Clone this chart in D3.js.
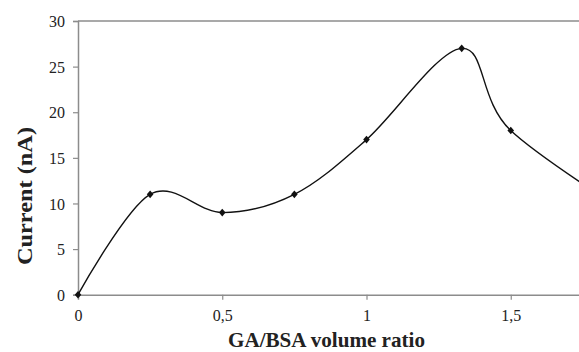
<!DOCTYPE html>
<html><head><meta charset="utf-8">
<script src="https://cdn.jsdelivr.net/npm/d3@7"></script>
<style>
html,body{margin:0;padding:0;background:#fff;}
svg{display:block;font-family:"Liberation Serif","Times New Roman",serif;}
</style></head>
<body>
<svg id="chart" width="579" height="352"></svg>
<script>
const ratios = [0, 0.25, 0.5, 0.75, 1, 1.33, 1.5, 2];
const currents = [0, 11, 9, 11, 17, 27, 18, 7];
const yTicks = [0, 5, 10, 15, 20, 25, 30];
const xTicks = [0, 0.5, 1, 1.5];
const xTickLabels = ["0", "0,5", "1", "1,5"];
const xTitle = "GA/BSA volume ratio";
const yTitle = "Current (nA)";

const svg = d3.select("#chart");
const axisColor = "#8c8c8c";
const x = d3.scaleLinear().domain([0, 2]).range([78, 655]);
const y = d3.scaleLinear().domain([0, 30]).range([294.7, 21]);

// top border of plot area
svg.append("line").attr("x1", x(0)).attr("x2", x(2)).attr("y1", y(30)).attr("y2", y(30))
  .attr("stroke", axisColor).attr("stroke-width", 1.5);

// Y axis
const yAxis = svg.append("g").attr("transform", `translate(${x(0)},0)`)
  .call(d3.axisLeft(y).tickValues(yTicks).tickSize(5).tickPadding(8).tickFormat(d3.format("d")));
yAxis.select(".domain").attr("stroke", axisColor).attr("stroke-width", 1.5);
yAxis.selectAll(".tick line").attr("stroke", axisColor).attr("stroke-width", 1.2);
yAxis.selectAll(".tick text").attr("font-size", 16).attr("fill", "#222")
  .attr("font-family", "Liberation Serif, serif").attr("dy", "0.35em");

// X axis
const xAxis = svg.append("g").attr("transform", `translate(0,${y(0)})`)
  .call(d3.axisBottom(x).tickValues(xTicks).tickSize(5).tickPadding(10)
    .tickFormat((d, i) => xTickLabels[i]));
xAxis.select(".domain").attr("stroke", axisColor).attr("stroke-width", 1.5);
xAxis.selectAll(".tick line").attr("stroke", axisColor).attr("stroke-width", 1.2);
xAxis.selectAll(".tick").filter(d => d === 0).select("line").remove();
xAxis.selectAll(".tick text").attr("font-size", 16).attr("fill", "#222")
  .attr("font-family", "Liberation Serif, serif");

// curve
const data = ratios.map((r, i) => ({r, c: currents[i]}));
const line = d3.line().x(d => x(d.r)).y(d => y(d.c)).curve(d3.curveCatmullRom.alpha(0));
svg.append("path").datum(data).attr("d", line)
  .attr("fill", "none").attr("stroke", "#111").attr("stroke-width", 1.4);

// markers
svg.append("g").selectAll("path").data(data).join("path")
  .attr("transform", d => `translate(${x(d.r)},${y(d.c)})`)
  .attr("d", "M0,-3.8L3.3,0L0,3.8L-3.3,0Z")
  .attr("fill", "#111");

// titles
svg.append("text").attr("x", 326.5).attr("y", 346.5).attr("text-anchor", "middle")
  .attr("font-size", 21).attr("font-weight", "bold").attr("fill", "#222")
  .attr("textLength", 197).attr("lengthAdjust", "spacingAndGlyphs")
  .text(xTitle);
svg.append("text").attr("transform", "translate(32,196) rotate(-90)").attr("text-anchor", "middle")
  .attr("font-size", 21).attr("font-weight", "bold").attr("fill", "#222")
  .attr("textLength", 138).attr("lengthAdjust", "spacingAndGlyphs")
  .text(yTitle);
</script>
</body></html>
